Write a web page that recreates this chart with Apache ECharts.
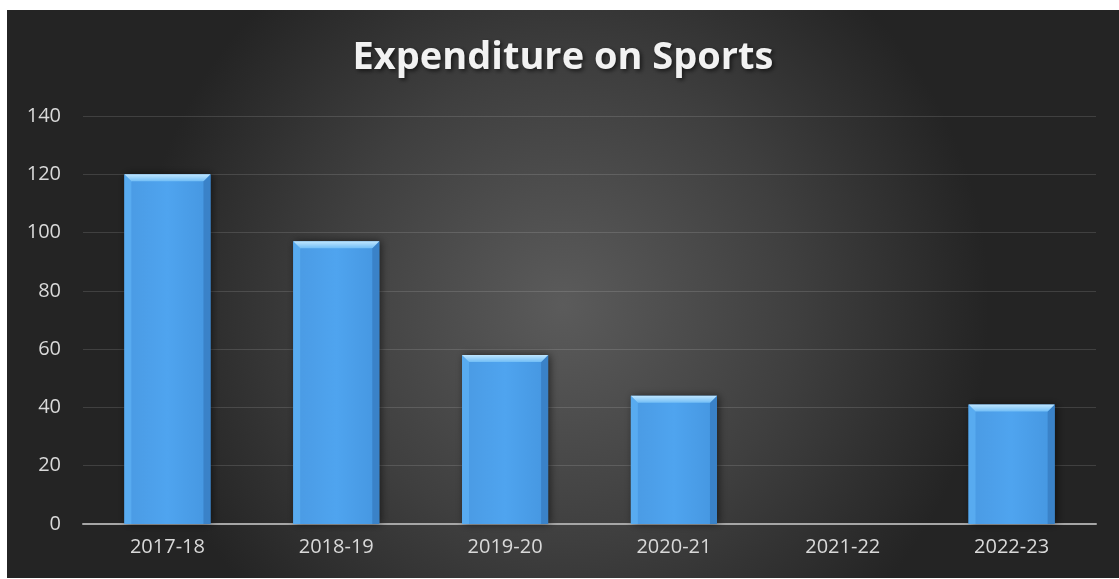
<!DOCTYPE html>
<html>
<head>
<meta charset="utf-8">
<title>Expenditure on Sports</title>
<script src="https://cdn.jsdelivr.net/npm/echarts@6/dist/echarts.min.js"></script>
<style>
  html, body { margin: 0; padding: 0; background: #ffffff; width: 1119px; height: 579px; overflow: hidden; }
  #chart { position: absolute; left: 7px; top: 10px; width: 1112px; height: 568px; }
</style>
</head>
<body>
<div id="chart"></div>
<script>
// Yearly spend on sports
const years = ['2017-18', '2018-19', '2019-20', '2020-21', '2021-22', '2022-23'];
const spend = [120, 97, 58, 44, 0, 41];
const yTicks = [0, 20, 40, 60, 80, 100, 120, 140];

const chart = echarts.init(document.getElementById('chart'), null, { renderer: 'canvas' });

// Bevelled bar: body, lit top face, shaded sides
function renderBevelBar(params, api) {
  const idx = api.value(0);
  const val = api.value(1);
  if (!val) return { type: 'group', children: [] };
  const top = api.coord([idx, val]);
  const base = api.coord([idx, 0]);
  const w = api.size([1, 0])[0] * 0.51;
  const x0 = top[0] - w / 2, x1 = top[0] + w / 2;
  const y0 = top[1], y1 = base[1];
  const b = 7;
  return {
    type: 'group',
    children: [
      {
        type: 'rect',
        shape: { x: x0, y: y0, width: w, height: y1 - y0 },
        style: {
          fill: new echarts.graphic.LinearGradient(0, 0, 1, 0, [
            { offset: 0, color: '#4a9ae3' },
            { offset: 0.5, color: '#4fa4ef' },
            { offset: 1, color: '#4596e0' }
          ]),
          shadowColor: 'rgba(0,0,0,0.55)',
          shadowBlur: 8,
          shadowOffsetX: 2,
          shadowOffsetY: 0
        }
      },
      {
        type: 'polygon',
        shape: { points: [[x0, y0], [x0 + b, y0 + b], [x0 + b, y1], [x0, y1]] },
        style: { fill: '#58abf0' }
      },
      {
        type: 'polygon',
        shape: { points: [[x1, y0], [x1 - b, y0 + b], [x1 - b, y1], [x1, y1]] },
        style: { fill: '#3a82c8' }
      },
      {
        type: 'polygon',
        shape: { points: [[x0, y0], [x1, y0], [x1 - b, y0 + b], [x0 + b, y0 + b]] },
        style: {
          fill: new echarts.graphic.LinearGradient(0, 0, 0, 1, [
            { offset: 0, color: '#bfe6ff' },
            { offset: 1, color: '#72bef6' }
          ])
        }
      }
    ]
  };
}

chart.setOption({
  backgroundColor: new echarts.graphic.RadialGradient(0.5, 0.52, 0.75, [
    { offset: 0, color: '#5b5b5b' },
    { offset: 0.55, color: '#3f3f3f' },
    { offset: 1, color: '#242424' }
  ]),
  animation: false,
  title: {
    text: 'Expenditure on Sports',
    left: 'center',
    top: 24,
    textStyle: {
      color: '#f2f2f2',
      fontFamily: 'Open Sans',
      fontWeight: 'bold',
      fontSize: 38,
      textShadowColor: 'rgba(0,0,0,0.6)',
      textShadowBlur: 4,
      textShadowOffsetX: 2,
      textShadowOffsetY: 2
    }
  },
  grid: { left: 76, right: 23, top: 106, bottom: 54, containLabel: false },
  xAxis: {
    type: 'category',
    data: years,
    axisLine: { lineStyle: { color: '#a6a6a6', width: 2 } },
    axisTick: { show: false },
    axisLabel: { color: '#d9d9d9', fontFamily: 'Open Sans', fontSize: 20, margin: 13 }
  },
  yAxis: {
    type: 'value',
    min: yTicks[0],
    max: yTicks[yTicks.length - 1],
    interval: yTicks[1] - yTicks[0],
    axisLine: { show: false },
    axisTick: { show: false },
    axisLabel: { color: '#d9d9d9', fontFamily: 'Open Sans', fontSize: 20, margin: 22 },
    splitLine: { lineStyle: { color: 'rgba(255,255,255,0.13)', width: 1 } }
  },
  series: [{
    type: 'custom',
    renderItem: renderBevelBar,
    encode: { x: 0, y: 1 },
    data: years.map((y, i) => [i, spend[i]])
  }]
});
</script>
</body>
</html>
